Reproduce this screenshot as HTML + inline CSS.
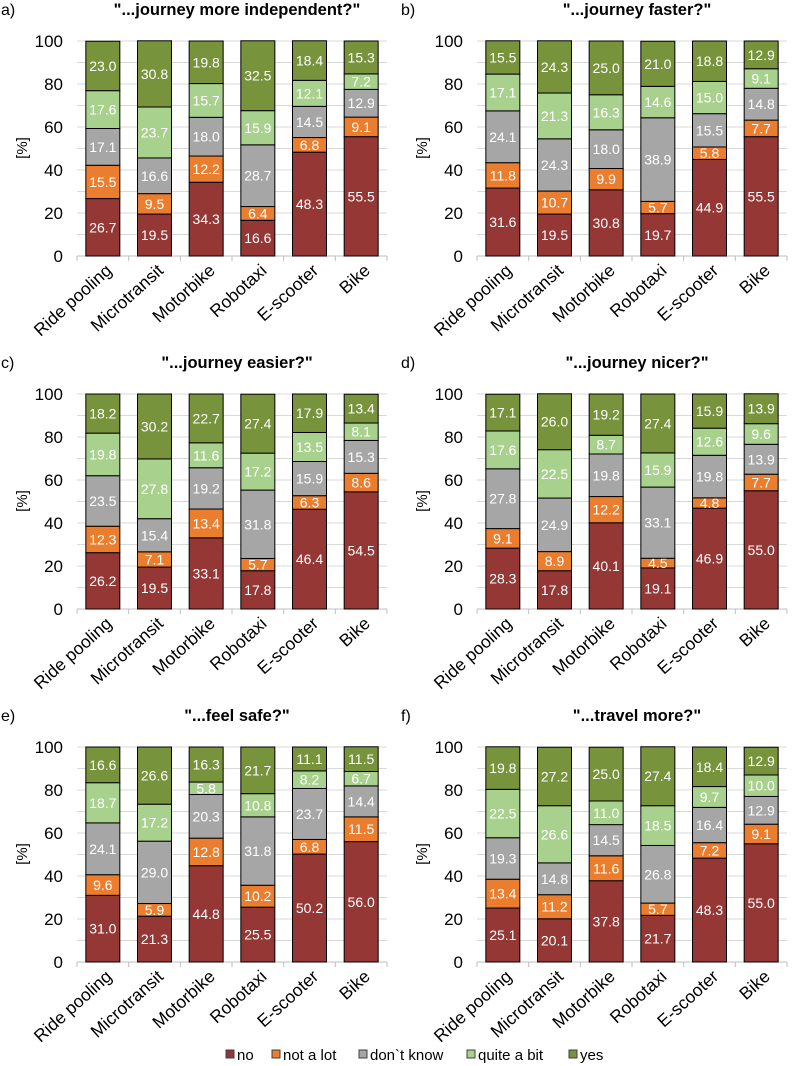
<!DOCTYPE html>
<html><head><meta charset="utf-8"><style>
body{margin:0;background:#fff;}
svg{display:block;font-family:"Liberation Sans",Arial,sans-serif;}
</style></head><body>
<svg id="c" width="800" height="1066" viewBox="0 0 800 1066"></svg>
<script>
const categories=["Ride pooling","Microtransit","Motorbike","Robotaxi","E-scooter","Bike"];
const seriesNames=["no","not a lot","don`t know","quite a bit","yes"];
const colors=["#953735","#EB7D2E","#A6A6A6","#A9D18E","#77933C"];
const panelTitles=['"...journey more independent?"','"...journey faster?"','"...journey easier?"','"...journey nicer?"','"...feel safe?"','"...travel more?"'];
const panelLetters=["a)","b)","c)","d)","e)","f)"];
const yTicks=[0,20,40,60,80,100];
const dataA=[[26.7,15.5,17.1,17.6,23.0],[19.5,9.5,16.6,23.7,30.8],[34.3,12.2,18.0,15.7,19.8],[16.6,6.4,28.7,15.9,32.5],[48.3,6.8,14.5,12.1,18.4],[55.5,9.1,12.9,7.2,15.3]];
const dataB=[[31.6,11.8,24.1,17.1,15.5],[19.5,10.7,24.3,21.3,24.3],[30.8,9.9,18.0,16.3,25.0],[19.7,5.7,38.9,14.6,21.0],[44.9,5.8,15.5,15.0,18.8],[55.5,7.7,14.8,9.1,12.9]];
const dataC=[[26.2,12.3,23.5,19.8,18.2],[19.5,7.1,15.4,27.8,30.2],[33.1,13.4,19.2,11.6,22.7],[17.8,5.7,31.8,17.2,27.4],[46.4,6.3,15.9,13.5,17.9],[54.5,8.6,15.3,8.1,13.4]];
const dataD=[[28.3,9.1,27.8,17.6,17.1],[17.8,8.9,24.9,22.5,26.0],[40.1,12.2,19.8,8.7,19.2],[19.1,4.5,33.1,15.9,27.4],[46.9,4.8,19.8,12.6,15.9],[55.0,7.7,13.9,9.6,13.9]];
const dataE=[[31.0,9.6,24.1,18.7,16.6],[21.3,5.9,29.0,17.2,26.6],[44.8,12.8,20.3,5.8,16.3],[25.5,10.2,31.8,10.8,21.7],[50.2,6.8,23.7,8.2,11.1],[56.0,11.5,14.4,6.7,11.5]];
const dataF=[[25.1,13.4,19.3,22.5,19.8],[20.1,11.2,14.8,26.6,27.2],[37.8,11.6,14.5,11.0,25.0],[21.7,5.7,26.8,18.5,27.4],[48.3,7.2,16.4,9.7,18.4],[55.0,9.1,12.9,10.0,12.9]];
const panels=[dataA,dataB,dataC,dataD,dataE,dataF];

const NS="http://www.w3.org/2000/svg";
const svg=document.getElementById("c");
function mk(tag,attrs,parent){const e=document.createElementNS(NS,tag);for(const k in attrs)e.setAttribute(k,attrs[k]);(parent||svg).appendChild(e);return e;}

panels.forEach((data,p)=>{
  const ox=(p%2)*400, top=41+Math.floor(p/2)*353, H=215, left=ox+77, W=310;
  const g=mk("g",{});
  
  
  const y=v=>top+H-v/100*H;
  const bw=W/categories.length;
  const x=i=>left+bw*i+bw/2;
  const lt=mk("text",{x:ox+1,y:top-26,"font-size":16,fill:"#000"},g);
  lt.textContent=panelLetters[p];
  
  
  const tt=mk("text",{x:ox+237,y:top-26,"font-size":16.5,"font-weight":"bold","text-anchor":"middle"},g);
  tt.textContent=panelTitles[p];
  
  
  for(let v=10;v<=100;v+=10){
    const l=mk("line",{x1:left,x2:left+W,y1:y(v),y2:y(v),stroke:"#D9D9D9","stroke-width":1},g);
    
    
  }
  const ax=mk("line",{x1:left,x2:left+W,y1:y(0),y2:y(0),stroke:"#BFBFBF","stroke-width":1},g);
  
  
  for(let i=0;i<=categories.length;i++){
    mk("line",{x1:left+bw*i,x2:left+bw*i,y1:y(0),y2:y(0)+5,stroke:"#BFBFBF"},g);
  }
  yTicks.forEach(v=>{
    const t=mk("text",{x:left-14,y:y(v)+6,"font-size":17,"text-anchor":"end",fill:"#000"},g);
    t.textContent=v;
    
    
  });
  const yt=mk("text",{x:0,y:0,"font-size":15,"text-anchor":"middle",transform:`translate(${ox+27},${top+107}) rotate(-90)`},g);
  yt.textContent="[%]";
  
  
  categories.forEach((c,i)=>{
    let acc=0;
    data[i].forEach((v,s)=>{
      const r=mk("rect",{x:x(i)-17,y:y(acc+v),width:34,height:y(acc)-y(acc+v),fill:colors[s],stroke:"#000","stroke-width":1},g);
      
      
      const t=mk("text",{x:x(i),y:(y(acc)+y(acc+v))/2+5,"font-size":14,"text-anchor":"middle",fill:"#fff"},g);
      t.textContent=v.toFixed(1);
      
      
      acc+=v;
    });
    const cl=mk("text",{x:0,y:0,"font-size":17.5,"text-anchor":"end",transform:`translate(${x(i)+10},${y(0)+16}) rotate(-42)`},g);
    cl.textContent=c;
    
    
  });
});
const legX=[226,272,359,467,569];
seriesNames.forEach((n,s)=>{
  const lg=mk("g",{});
  
  
  mk("rect",{x:legX[s],y:1050,width:8,height:8,fill:colors[s],stroke:"#404040","stroke-width":1},lg);
  const t=mk("text",{x:legX[s]+11,y:1060,"font-size":15},lg);
  t.textContent=n;
});
</script>
</body></html>
